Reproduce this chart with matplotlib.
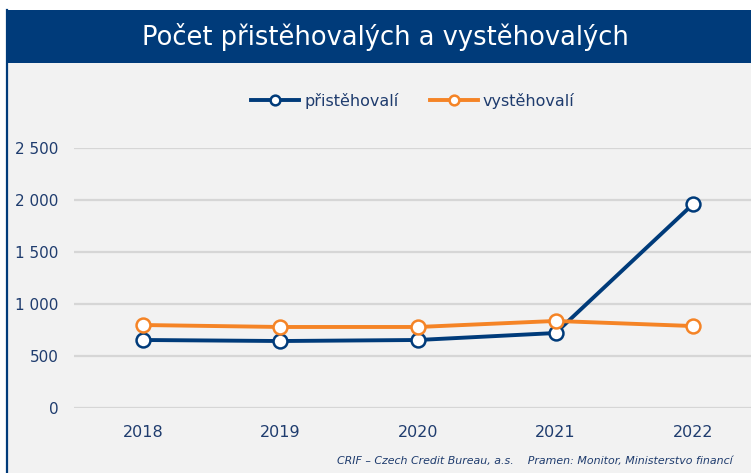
import matplotlib
matplotlib.use("Agg")
import matplotlib.pyplot as plt
from matplotlib.patches import Rectangle
from matplotlib.lines import Line2D

years = ["2018", "2019", "2020", "2021", "2022"]
prist = [654, 644, 654, 721, 1962]
vyst = [798, 779, 779, 837, 788]
yticks = [0, 500, 1000, 1500, 2000, 2500]
ytick_labels = ["0", "500", "1 000", "1 500", "2 000", "2 500"]

W, H = 751, 473
fig = plt.figure(figsize=(W / 100, H / 100), dpi=100)
fig.patch.set_facecolor("white")

BLUE = "#003B7A"
ORANGE = "#F58426"
TXT = "#1F3C6E"
BG = "#F2F2F2"

# background panel
fig.patches.append(Rectangle((6 / W, 0), 1, 1 - 63 / H, transform=fig.transFigure,
                             facecolor=BG, edgecolor="none", zorder=-2))
# title bar
fig.patches.append(Rectangle((6 / W, 1 - 63 / H), 1, (63 - 10) / H, transform=fig.transFigure,
                             facecolor=BLUE, edgecolor="none", zorder=-1))
# left border line
fig.lines.append(Line2D([7 / W, 7 / W], [0, 1 - 10 / H], transform=fig.transFigure,
                        color=BLUE, lw=1.6, zorder=-1))

fig.text(385 / W, 1 - 37 / H, "Počet přistěhovalých a vystěhovalých", color="white",
         fontsize=18.5, ha="center", va="center", family="DejaVu Sans")

left, right = 74 / W, 762 / W
bottom, top = 1 - 408 / H, 1 - 148 / H
ax = fig.add_axes([left, bottom, right - left, top - bottom])
ax.set_zorder(5)
ax.set_facecolor("none")
x = list(range(len(years)))
ax.plot(x, prist, color=BLUE, lw=2.8, marker="o", ms=10, mfc="white", mec=BLUE, mew=1.8,
        label="přistěhovalí", clip_on=False, zorder=3)
ax.plot(x, vyst, color=ORANGE, lw=2.8, marker="o", ms=10, mfc="white", mec=ORANGE, mew=1.8,
        label="vystěhovalí", clip_on=False, zorder=4)
ax.set_xlim(-0.5, 4.5)
ax.set_ylim(0, 2500)
ax.set_xticks(x)
ax.set_xticklabels(years)
ax.set_yticks(yticks)
ax.set_yticklabels(ytick_labels)
ax.grid(axis="y", color="#D6D6D6", lw=1.6)
ax.set_axisbelow(True)
for s in ax.spines.values():
    s.set_visible(False)
ax.tick_params(axis="both", length=0, colors=TXT, labelsize=11)
ax.tick_params(axis="x", pad=12, labelsize=11.5)
ax.tick_params(axis="y", pad=16)
ax.tick_params(axis="y", pad=11)

leg = fig.legend(loc="center", bbox_to_anchor=(413 / W, 1 - 101 / H), ncol=2, frameon=False,
                 fontsize=11.5, handlelength=3.0, columnspacing=2.0, handletextpad=0.3)
leg.set_zorder(6)
for t in leg.get_texts():
    t.set_color(TXT)
for h in leg.legend_handles:
    h.set_markersize(7)

fig.text(733 / W, 1 - 461 / H,
         "CRIF – Czech Credit Bureau, a.s.    Pramen: Monitor, Ministerstvo financí",
         color=TXT, fontsize=7.9, style="italic", ha="right", va="center")

fig.savefig("out.png", dpi=100, facecolor="white")
